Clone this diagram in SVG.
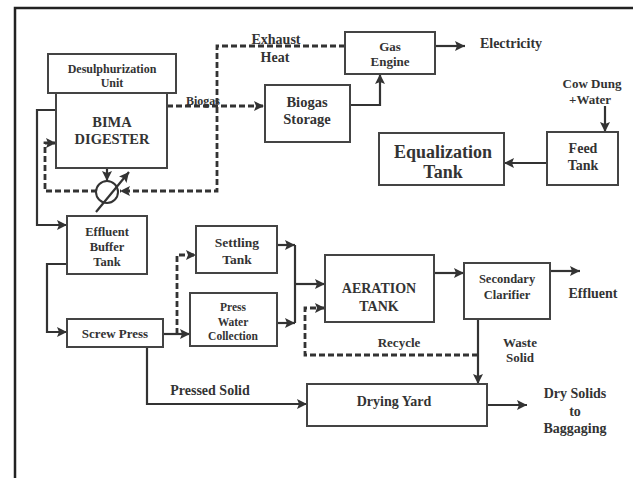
<svg xmlns="http://www.w3.org/2000/svg" width="633" height="478" viewBox="0 0 633 478">
<style>
.bx{fill:#fff;stroke:#444;stroke-width:2}
.t{font-family:"Liberation Serif","Times New Roman",serif;font-weight:bold;fill:#333;text-anchor:middle}
.ln{fill:none;stroke:#333;stroke-width:2.2}
.ds{fill:none;stroke:#333;stroke-width:2.8;stroke-dasharray:6,3}
</style>
<defs>
<marker id="ah" viewBox="0 0 10 10" refX="10" refY="5" markerWidth="11" markerHeight="10" markerUnits="userSpaceOnUse" orient="auto"><path d="M0,0 L10,5 L0,10 L2,5 z" fill="#333"/></marker>
</defs>
<rect width="633" height="478" fill="#fff"/>
<path d="M15,478 V8 H633" fill="none" stroke="#222" stroke-width="2.5"/>

<g id="connectors">
<path class="ds" d="M167,106 H264" marker-end="url(#ah)"/>
<path class="ds" d="M345,46 H217 V191 H120" marker-end="url(#ah)"/>
<path class="ds" d="M97,191 H45 V143 H56" marker-end="url(#ah)"/>
<path class="ln" d="M107,168 V181" marker-end="url(#ah)"/>
<path class="ln" d="M96,212 L129,172" marker-end="url(#ah)"/>
<path class="ln" d="M56,110 H37 V225 H67" marker-end="url(#ah)"/>
<path class="ln" d="M67,264 H47 V332 H67" marker-end="url(#ah)"/>
<path class="ln" d="M163,334 H190" marker-end="url(#ah)"/>
<path class="ds" d="M177,334 V255 H196" marker-end="url(#ah)"/>
<path class="ln" d="M277,245 H295" marker-end="url(#ah)"/>
<path class="ln" d="M277,323 H295" marker-end="url(#ah)"/>
<path class="ln" d="M295,245 V323"/>
<path class="ln" d="M295,284 H325" marker-end="url(#ah)"/>
<path class="ds" d="M478,355 H305 V308 H325" marker-end="url(#ah)"/>
<path class="ln" d="M434,273 H464" marker-end="url(#ah)"/>
<path class="ln" d="M550,271 H580" marker-end="url(#ah)"/>
<path class="ln" d="M478,319 V384" marker-end="url(#ah)"/>
<path class="ln" d="M147,347 V404 H307" marker-end="url(#ah)"/>
<path class="ln" d="M487,405 H527" marker-end="url(#ah)"/>
<path class="ln" d="M350,105 H380 V74" marker-end="url(#ah)"/>
<path class="ln" d="M435,46 H465" marker-end="url(#ah)"/>
<path class="ln" d="M605,106 V132" stroke-width="4" marker-end="url(#ah)"/>
<path class="ln" d="M547,163 H504" marker-end="url(#ah)"/>
</g>

<g id="labels">
<text class="t" x="203" y="105" font-size="12">Biogas</text>
<text class="t" x="276" y="44" font-size="14">Exhaust</text>
<text class="t" x="275" y="62" font-size="14">Heat</text>
<text class="t" x="511" y="48" font-size="14">Electricity</text>
<text class="t" x="592" y="88" font-size="13">Cow Dung</text>
<text class="t" x="590" y="104" font-size="13">+Water</text>
<text class="t" x="593" y="298" font-size="14">Effluent</text>
<text class="t" x="399" y="347" font-size="13">Recycle</text>
<text class="t" x="520" y="347" font-size="13">Waste</text>
<text class="t" x="520" y="362" font-size="13">Solid</text>
<text class="t" x="210" y="395" font-size="14">Pressed Solid</text>
<text class="t" x="575" y="398" font-size="14">Dry Solids</text>
<text class="t" x="575" y="416" font-size="14">to</text>
<text class="t" x="575" y="433" font-size="14">Baggaging</text>
</g>

<g id="desulph">
<rect class="bx" x="48" y="54" width="128" height="39"/>
<text class="t" x="112" y="73" font-size="12">Desulphurization</text>
<text class="t" x="112" y="87" font-size="12">Unit</text>
</g>
<g id="digester">
<rect class="bx" x="56" y="93" width="111" height="75"/>
<text class="t" x="112" y="127" font-size="14.5">BIMA</text>
<text class="t" x="112" y="144" font-size="14.5">DIGESTER</text>
</g>
<g id="heatexchanger">
<circle cx="107" cy="192" r="11" fill="none" stroke="#333" stroke-width="2"/>
</g>
<g id="storage">
<rect class="bx" x="265" y="85" width="85" height="57"/>
<text class="t" x="307" y="107" font-size="14.5">Biogas</text>
<text class="t" x="307" y="124" font-size="14.5">Storage</text>
</g>
<g id="engine">
<rect class="bx" x="345" y="32" width="90" height="42"/>
<text class="t" x="390" y="51" font-size="13">Gas</text>
<text class="t" x="390" y="66" font-size="13">Engine</text>
</g>
<g id="equalization">
<rect class="bx" x="379" y="133" width="125" height="52"/>
<text class="t" x="443" y="158" font-size="18">Equalization</text>
<text class="t" x="443" y="178" font-size="18">Tank</text>
</g>
<g id="feed">
<rect class="bx" x="547" y="132" width="71" height="53"/>
<text class="t" x="583" y="153" font-size="14">Feed</text>
<text class="t" x="583" y="170" font-size="14">Tank</text>
</g>
<g id="buffer">
<rect class="bx" x="67" y="216" width="80" height="58"/>
<text class="t" x="107" y="236" font-size="12.5">Effluent</text>
<text class="t" x="107" y="251" font-size="12.5">Buffer</text>
<text class="t" x="107" y="266" font-size="12.5">Tank</text>
</g>
<g id="screw">
<rect class="bx" x="67" y="319" width="96" height="28"/>
<text class="t" x="115" y="338" font-size="13">Screw Press</text>
</g>
<g id="settling">
<rect class="bx" x="196" y="226" width="81" height="47"/>
<text class="t" x="237" y="247" font-size="13.5">Settling</text>
<text class="t" x="237" y="264" font-size="13.5">Tank</text>
</g>
<g id="presswater">
<rect class="bx" x="190" y="293" width="87" height="53"/>
<text class="t" x="233" y="311" font-size="11.5">Press</text>
<text class="t" x="233" y="326" font-size="11.5">Water</text>
<text class="t" x="233" y="340" font-size="11.5">Collection</text>
</g>
<g id="aeration">
<rect class="bx" x="325" y="255" width="109" height="67"/>
<text class="t" x="379" y="293" font-size="14">AERATION</text>
<text class="t" x="379" y="311" font-size="14">TANK</text>
</g>
<g id="clarifier">
<rect class="bx" x="464" y="263" width="86" height="56"/>
<text class="t" x="507" y="283" font-size="12.5">Secondary</text>
<text class="t" x="507" y="299" font-size="12.5">Clarifier</text>
</g>
<g id="drying">
<rect class="bx" x="307" y="384" width="180" height="42"/>
<text class="t" x="394" y="406" font-size="14">Drying Yard</text>
</g>
</svg>
